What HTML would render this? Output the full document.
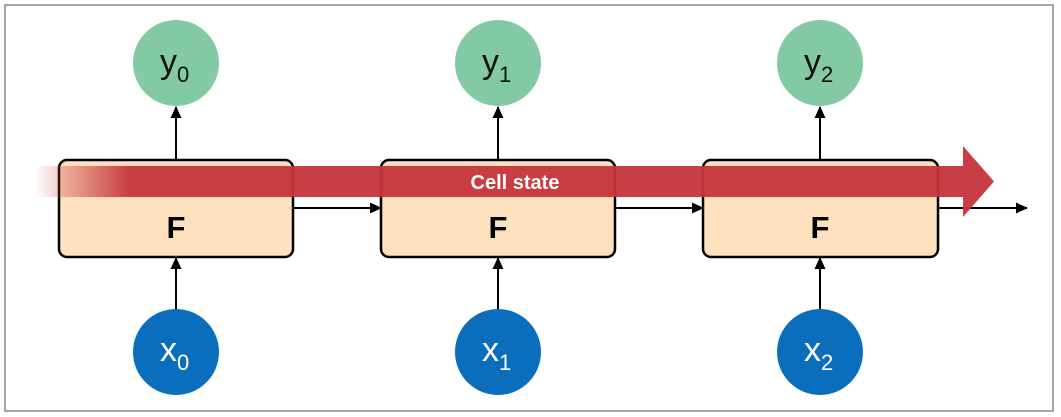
<!DOCTYPE html>
<html><head><meta charset="utf-8"><style>
html,body{margin:0;padding:0;background:#fff;}
svg{display:block;}
text{font-family:"Liberation Sans",sans-serif;}
</style></head><body>
<svg width="1061" height="417" viewBox="0 0 1061 417" xmlns="http://www.w3.org/2000/svg">
<defs>
<linearGradient id="fade" x1="35" x2="130" y1="0" y2="0" gradientUnits="userSpaceOnUse">
<stop offset="0" stop-color="#c4343a" stop-opacity="0"/>
<stop offset="1" stop-color="#c4343a" stop-opacity="0.95"/>
</linearGradient>
<marker id="ah" markerWidth="12" markerHeight="12" refX="11" refY="6" orient="auto" markerUnits="userSpaceOnUse">
<path d="M0,0.5 L12,6 L0,11.5 z" fill="#000"/>
</marker>
</defs>
<rect x="5" y="5" width="1048" height="406" fill="#fff" stroke="#888" stroke-width="1.5"/>
<g stroke="#000" stroke-width="2" fill="none">
<line x1="176" y1="160" x2="176" y2="107" marker-end="url(#ah)"/>
<line x1="498" y1="160" x2="498" y2="107" marker-end="url(#ah)"/>
<line x1="820" y1="160" x2="820" y2="107" marker-end="url(#ah)"/>
<line x1="176" y1="310" x2="176" y2="258" marker-end="url(#ah)"/>
<line x1="498" y1="310" x2="498" y2="258" marker-end="url(#ah)"/>
<line x1="820" y1="310" x2="820" y2="258" marker-end="url(#ah)"/>
<line x1="293" y1="208" x2="381" y2="208" marker-end="url(#ah)"/>
<line x1="615" y1="208" x2="703" y2="208" marker-end="url(#ah)"/>
<line x1="938" y1="208" x2="1027" y2="208" marker-end="url(#ah)"/>
</g>
<g fill="#fde0be" stroke="#000" stroke-width="2.5">
<rect x="59" y="160" width="234" height="97" rx="8"/>
<rect x="381" y="160" width="234" height="97" rx="8"/>
<rect x="703" y="160" width="235" height="97" rx="8"/>
</g>
<g font-size="31" font-weight="bold" text-anchor="middle" fill="#000">
<text x="176" y="238">F</text>
<text x="498" y="238">F</text>
<text x="820" y="238">F</text>
</g>
<rect x="35" y="166" width="95" height="31" fill="url(#fade)"/>
<path d="M130,166 L963,166 L963,146 L994,181.5 L963,217 L963,197 L130,197 z" fill="#c4343a" fill-opacity="0.95"/>
<text x="515" y="189" font-size="20" font-weight="bold" fill="#fff" text-anchor="middle">Cell state</text>
<g fill="#82c9a4">
<circle cx="176" cy="63" r="43"/><circle cx="498" cy="63" r="43"/><circle cx="820" cy="63" r="43"/>
</g>
<g fill="#0a6ebd">
<circle cx="176" cy="352" r="43"/><circle cx="498" cy="352" r="43"/><circle cx="820" cy="352" r="43"/>
</g>
<g font-size="34" fill="#111">
<text x="160" y="73">y<tspan font-size="22" dy="9">0</tspan></text>
<text x="482" y="73">y<tspan font-size="22" dy="9">1</tspan></text>
<text x="804" y="73">y<tspan font-size="22" dy="9">2</tspan></text>
</g>
<g font-size="34" fill="#fff">
<text x="160" y="361">x<tspan font-size="22" dy="9">0</tspan></text>
<text x="482" y="361">x<tspan font-size="22" dy="9">1</tspan></text>
<text x="804" y="361">x<tspan font-size="22" dy="9">2</tspan></text>
</g>
</svg>
</body></html>
